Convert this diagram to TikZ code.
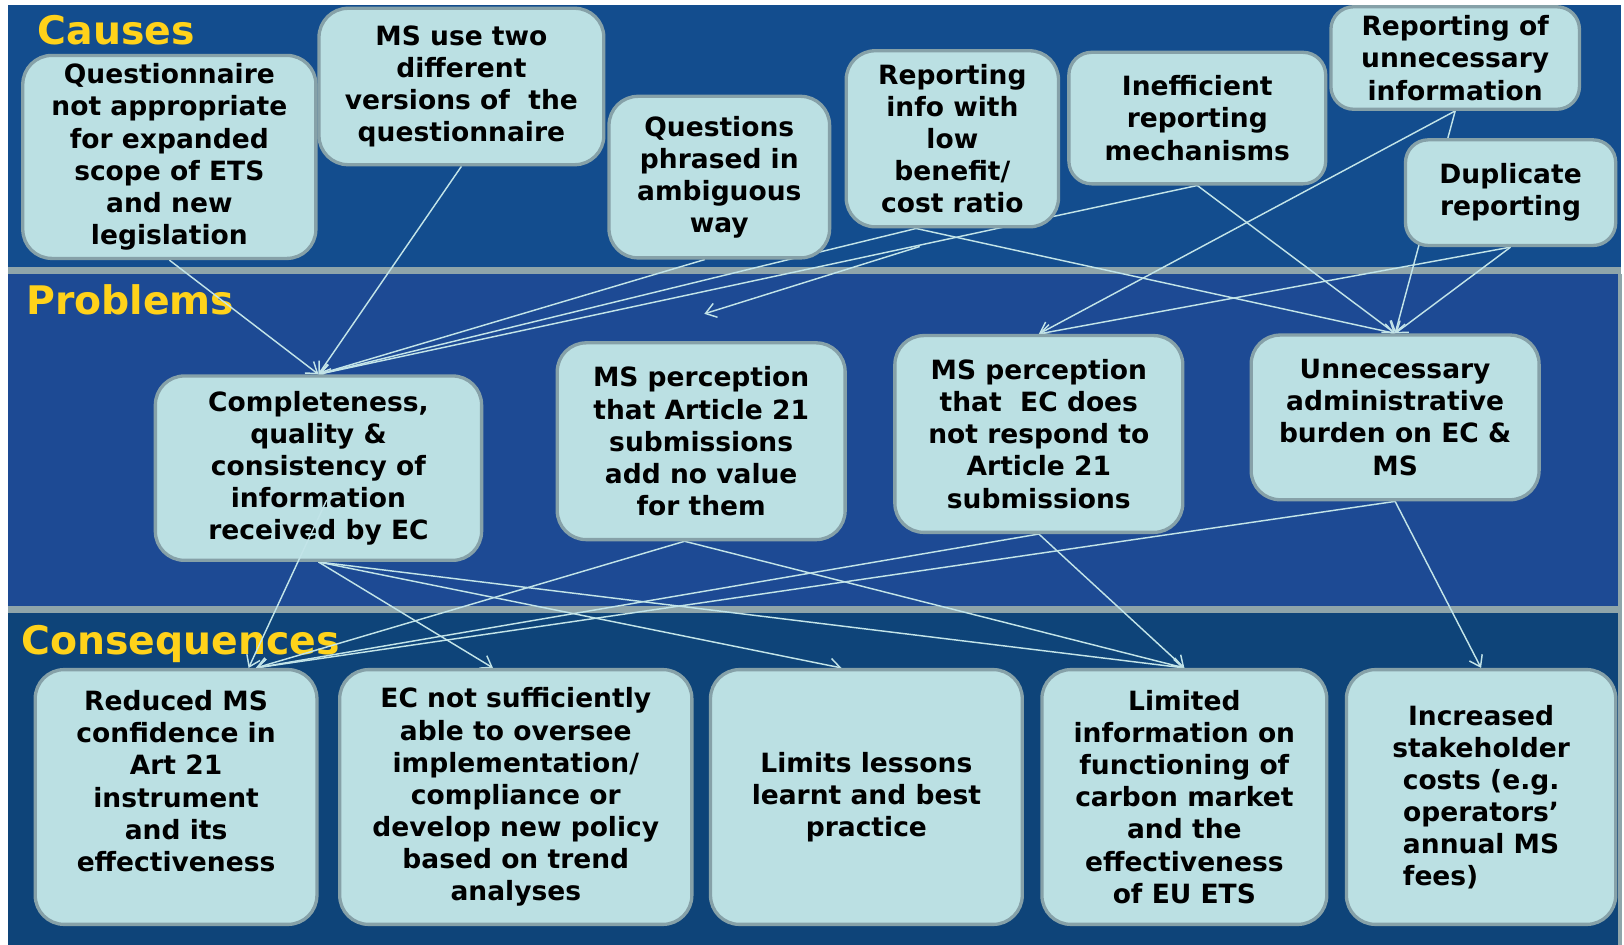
\documentclass[tikz,border=0pt]{standalone}
\usepackage{fontspec}
\setmainfont{DejaVu Sans}
\usetikzlibrary{arrows.meta,calc}
\pgfdeclarelayer{back}
\pgfdeclarelayer{mid}
\pgfdeclarelayer{front}
\pgfsetlayers{back,mid,main,front}
\definecolor{bandA}{HTML}{134D8E}
\definecolor{bandB}{HTML}{1D4A94}
\definecolor{bandC}{HTML}{0E4479}
\definecolor{sep}{HTML}{8FA5AA}
\definecolor{boxfill}{HTML}{BBE0E3}
\definecolor{boxline}{HTML}{86A1A8}
\definecolor{conn}{HTML}{C2E4E8}
\definecolor{ttlyellow}{HTML}{FFD21A}
\begin{document}
\begin{tikzpicture}[x=0.5pt,y=-0.5pt,
  bx/.style={draw=boxline, fill=boxfill, line width=1.6pt, rounded corners=14pt,
    align=center, inner sep=2pt, text=black,
    font=\bfseries\fontsize{12.8}{15.5}\selectfont},
  sbx/.style={bx, rounded corners=11pt},
  con/.style={draw=conn, line width=0.7pt, -{Straight Barb[length=5pt,width=7pt]}},
  ttl/.style={text=ttlyellow, font=\bfseries\fontsize{19}{22}\selectfont,
    anchor=base west, inner sep=0pt}]
\useasboundingbox (0,0) rectangle (1568,912);
\begin{pgfonlayer}{back}
\fill[white] (0,0) rectangle (1568,912);
\fill[bandA] (8,5) rectangle (1565,258);
\fill[sep] (8,258) rectangle (1565,265);
\fill[bandB] (8,265) rectangle (1565,585);
\fill[sep] (8,585) rectangle (1565,592);
\fill[bandC] (8,592) rectangle (1565,912);
\fill[sep] (1562,265) rectangle (1566,912);
\node[ttl] (tC) at (36,42.5) {Causes};
\node[ttl] (tP) at (25,304) {Problems};
\node[ttl] (tQ) at (20,632) {Consequences};
\end{pgfonlayer}
% Causes boxes
\node[bx, minimum width=141.5pt, minimum height=98pt] (q1) at (163.5,151.5)
  {Questionnaire\\not appropriate\\for expanded\\scope of ETS\\and new\\legislation};
\node[bx, minimum width=137.5pt, minimum height=75.5pt] (q2) at (445.5,83.5)
  {MS use two\\different\\versions of\ \ the\\questionnaire};
\node[bx, minimum width=106.5pt, minimum height=78pt] (q3) at (694.5,171)
  {Questions\\phrased in\\ambiguous\\way};
\node[bx, minimum width=102.5pt, minimum height=85pt] (q4) at (919.5,134)
  {Reporting\\info with\\low\\benefit/\\cost ratio};
\node[sbx, minimum width=124pt, minimum height=63.5pt] (q5) at (1156,114)
  {Inefficient\\reporting\\mechanisms};
\node[sbx, minimum width=120pt, minimum height=49.5pt] (q6) at (1405,56)
  {Reporting of\\unnecessary\\information};
\node[sbx, minimum width=101.5pt, minimum height=51pt] (q7) at (1458.5,186)
  {Duplicate\\reporting};
% Problems boxes
\node[bx, minimum width=157.5pt, minimum height=89pt] (p1) at (307.5,452)
  {Completeness,\\quality \&\\consistency of\\information\\received by EC};
\node[bx, minimum width=139pt, minimum height=95pt] (p2) at (677,426)
  {MS perception\\that Article 21\\submissions\\add no value\\for them};
\node[bx, minimum width=139pt, minimum height=95pt] (p3) at (1003,419)
  {MS perception\\that\ \ EC does\\not respond to\\Article 21\\submissions};
\node[bx, minimum width=139pt, minimum height=79.5pt] (p4) at (1347,403)
  {Unnecessary\\administrative\\burden on EC \&\\MS};
% Consequences boxes
\node[bx, minimum width=136pt, minimum height=123pt] (r1) at (170,769.5)
  {Reduced MS\\confidence in\\Art 21\\instrument\\and its\\effectiveness\\\mbox{}};
\node[bx, minimum width=170pt, minimum height=123pt] (r2) at (498,769.5)
  {EC not sufficiently\\able to oversee\\implementation/\\compliance or\\develop new policy\\based on trend\\analyses};
\node[bx, minimum width=150.5pt, minimum height=123pt] (r3) at (836.5,769.5)
  {Limits lessons\\learnt and best\\practice};
\node[bx, minimum width=137.5pt, minimum height=123pt] (r4) at (1143.5,769.5)
  {Limited\\information on\\functioning of\\carbon market\\and the\\effectiveness\\of EU ETS};
\node[bx, minimum width=130pt, minimum height=123pt] (r5) at (1430,769.5)
  {Increased\\stakeholder\\costs (e.g.\\operators’\\annual MS\\\makebox[0pt][l]{fees)}\phantom{annual MS}};
% helper points
\coordinate (q3b) at ($(q3.south)+(-14,0)$);
\coordinate (q4b) at ($(q4.south)+(-35,0)$);
\coordinate (d1) at (888,238);
\coordinate (d2) at (680,303);
\coordinate (p2b) at ($(p2.south)+(-16,0)$);
\coordinate (p1i) at ($(p1.south)+(8,-60)$);
\coordinate (r1a) at ($(r1.north)+(70,0)$);
\coordinate (r1b) at ($(r1.north)+(77,0)$);
\coordinate (r2t) at ($(r2.north)+(-22,0)$);
\coordinate (r3t) at ($(r3.north)+(-24,0)$);
% connectors behind boxes
\begin{pgfonlayer}{mid}
\draw[con] (q1.south) -- (p1.north);
\draw[con] (q2.south) -- (p1.north);
\draw[con] (q3b) -- (p1.north);
\draw[con] (q4b) -- (p1.north);
\draw[con] (q5.south) -- (p1.north);
\draw[con] (q4b) -- (p4.north);
\draw[con] (q5.south) -- (p4.north);
\draw[con] (q6.south) -- (p3.north);
\draw[con] (q6.south) -- (p4.north);
\draw[con] (q7.south) -- (p3.north);
\draw[con] (q7.south) -- (p4.north);
\draw[con] (d1) -- (d2);
\draw[con] (p1.south) -- (r2t);
\draw[con] (p1.south) -- (r3t);
\draw[con] (p1.south) -- (r4.north);
\draw[con] (p2b) -- (r1b);
\draw[con] (p2b) -- (r4.north);
\draw[con] (p3.south) -- (r1b);
\draw[con] (p3.south) -- (r4.north);
\draw[con] (p4.south) -- (r1b);
\draw[con] (p4.south) -- (r5.north);
\end{pgfonlayer}
\begin{pgfonlayer}{front}
\draw[con] (p1i) -- (r1a);
\end{pgfonlayer}
\end{tikzpicture}
\end{document}
